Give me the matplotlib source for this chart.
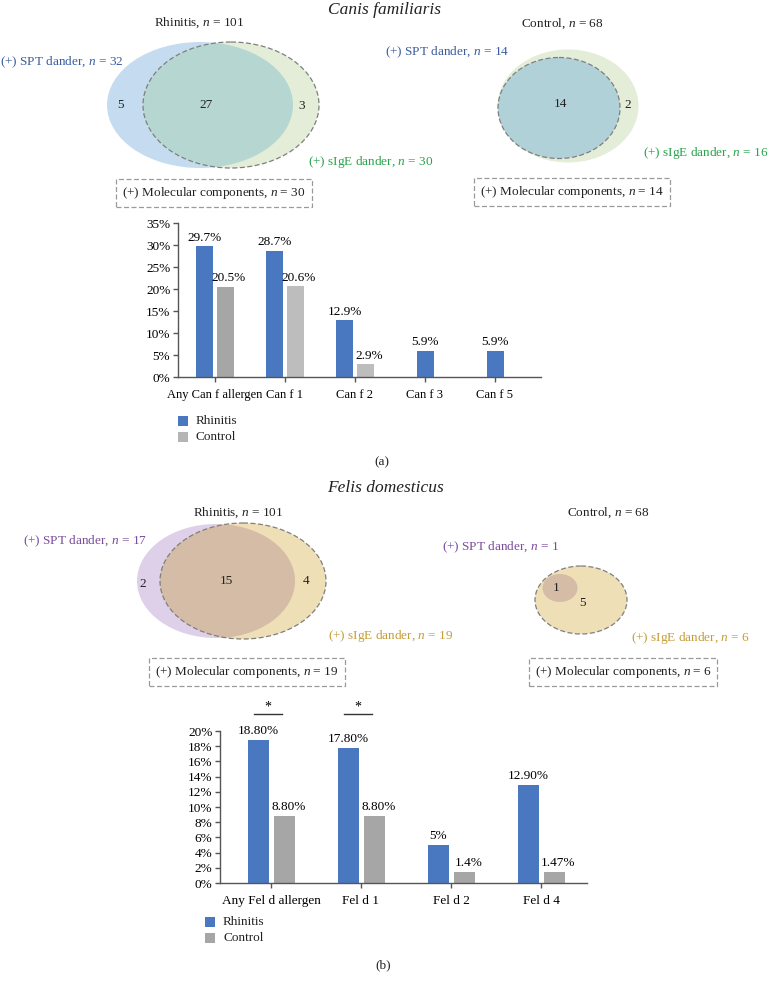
import matplotlib
matplotlib.use("Agg")
import matplotlib.pyplot as plt
from matplotlib.patches import Ellipse, Rectangle

plt.rcParams['font.family'] = ['Liberation Serif', 'DejaVu Serif']
plt.rcParams['mathtext.fontset'] = 'custom'
plt.rcParams['mathtext.rm'] = 'Liberation Serif'
plt.rcParams['mathtext.it'] = 'Liberation Serif:italic'

# ---------------- data ----------------
dog_categories = ["Any Can f allergen", "Can f 1", "Can f 2", "Can f 3", "Can f 5"]
dog_rhinitis = [29.7, 28.7, 12.9, 5.9, 5.9]
dog_control = [20.5, 20.6, 2.9, None, None]
dog_rhinitis_labels = ["29.7%", "28.7%", "12.9%", "5.9%", "5.9%"]
dog_control_labels = ["20.5%", "20.6%", "2.9%", None, None]
dog_yticks = [0, 5, 10, 15, 20, 25, 30, 35]

cat_categories = ["Any Fel d allergen", "Fel d 1", "Fel d 2", "Fel d 4"]
cat_rhinitis = [18.8, 17.8, 5.0, 12.9]
cat_control = [8.8, 8.8, 1.47, 1.47]
cat_rhinitis_labels = ["18.80%", "17.80%", "5%", "12.90%"]
cat_control_labels = ["8.80%", "8.80%", "1.4%", "1.47%"]
cat_yticks = [0, 2, 4, 6, 8, 10, 12, 14, 16, 18, 20]
cat_significant = [0, 1]

dog_venn_rhinitis = {"spt_only": 5, "both": 27, "sige_only": 3}
dog_venn_control = {"both": 14, "sige_only": 2}
cat_venn_rhinitis = {"spt_only": 2, "both": 15, "sige_only": 4}
cat_venn_control = {"both": 1, "sige_only": 5}

# ---------------- figure ----------------
W, H = 771, 983
fig = plt.figure(figsize=(W / 100, H / 100), dpi=100)
ax0 = fig.add_axes([0, 0, 1, 1])
ax0.set_xlim(0, W)
ax0.set_ylim(H, 0)
ax0.axis('off')

FS = 9.5
BLUE_T = '#3a5c9e'
GREEN_T = '#2aa34c'
PURPLE_T = '#7a4c9c'
TAN_T = '#c59d3a'
DASH_EC = '#7f7f7f'


def ell(cx, cy, w, h, fc, ec='none', ls='-', z=1, clip=None):
    e = Ellipse((cx, cy), w, h, fc=fc, ec=ec, ls=ls, lw=0.9, zorder=z)
    ax0.add_patch(e)
    if clip is not None:
        e.set_clip_path(clip)
    return e


def box(x, y, s):
    ax0.text(x, y, s, ha='center', va='center', fontsize=FS, color='#222',
             bbox=dict(boxstyle='square,pad=0.45', fc='white', ec='#9a9a9a',
                       ls=(0, (4, 2)), lw=0.9))


def t(x, y, s, color='#222', ha='center', fs=FS, **kw):
    ax0.text(x, y, s, ha=ha, va='center', fontsize=fs, color=color, **kw)


# ---- Canis familiaris ----
t(385, 10, "Canis familiaris", fs=12.5, style='italic')

# Rhinitis venn
t(199, 23, r"Rhinitis, $n$ = 101")
b = ell(200, 105, 186, 126, '#c5dcf0', z=1)
g = ell(231, 105, 176, 126, '#e4edd8', z=1.5)
i1 = ell(200, 105, 186, 126, '#b6d7d1', z=2, clip=g)
ell(231, 105, 176, 126, 'none', ec=DASH_EC, ls=(0, (4, 2)), z=3)
t(121, 105, str(dog_venn_rhinitis["spt_only"]))
t(206, 105, str(dog_venn_rhinitis["both"]))
t(302, 106, str(dog_venn_rhinitis["sige_only"]))
t(0, 62, r"(+) SPT dander, $n$ = 32", color=BLUE_T, ha='left')
t(308, 162, r"(+) sIgE dander, $n$ = 30", color=GREEN_T, ha='left')
box(214, 193, r"(+) Molecular components, $n$ = 30")

# Control venn
t(562, 24, r"Control, $n$ = 68")
ell(568, 106, 141, 113, '#e4edd8', z=1)
ell(559, 108, 122, 101, '#b1d1d9', ec=DASH_EC, ls=(0, (4, 2)), z=2)
t(560, 104, str(dog_venn_control["both"]))
t(628, 105, str(dog_venn_control["sige_only"]))
t(385, 52, r"(+) SPT dander, $n$ = 14", color=BLUE_T, ha='left')
t(768, 153, r"(+) sIgE dander, $n$ = 16", color=GREEN_T, ha='right')
box(572, 192, r"(+) Molecular components, $n$ = 14")

# ---- Felis domesticus ----
t(385, 488, "Felis domesticus", fs=12.5, style='italic')

t(238, 513, r"Rhinitis, $n$ = 101")
ell(216, 581, 158, 114, '#ddd0e8', z=1)
tg = ell(243, 581, 166, 116, '#efdfb6', z=1.5)
ell(216, 581, 158, 114, '#d4bca6', z=2, clip=tg)
ell(243, 581, 166, 116, 'none', ec=DASH_EC, ls=(0, (4, 2)), z=3)
t(143, 584, str(cat_venn_rhinitis["spt_only"]))
t(226, 581, str(cat_venn_rhinitis["both"]))
t(306, 581, str(cat_venn_rhinitis["sige_only"]))
t(23, 541, r"(+) SPT dander, $n$ = 17", color=PURPLE_T, ha='left')
t(328, 636, r"(+) sIgE dander, $n$ = 19", color=TAN_T, ha='left')
box(247, 672, r"(+) Molecular components, $n$ = 19")

t(608, 513, r"Control, $n$ = 68")
ell(581, 600, 92, 68, '#efdfb6', ec=DASH_EC, ls=(0, (4, 2)), z=1)
ell(560, 588, 35, 28, '#d4bca6', z=2)
t(556, 588, str(cat_venn_control["both"]))
t(582, 603, str(cat_venn_control["sige_only"]))
t(501, 547, r"(+) SPT dander, $n$ = 1", color=PURPLE_T)
t(690, 638, r"(+) sIgE dander, $n$ = 6", color=TAN_T)
box(623, 672, r"(+) Molecular components, $n$ = 6")

# ---------------- bar charts ----------------
BAR_BLUE = '#4a78c0'


def bar_axes(x0, x1, ybot, ytop):
    return fig.add_axes([x0 / W, 1 - ybot / H, (x1 - x0) / W, (ybot - ytop) / H])


def style_axes(ax, yticks, cats, positions, xfs=9.5):
    for s in ['top', 'right']:
        ax.spines[s].set_visible(False)
    for s in ['left', 'bottom']:
        ax.spines[s].set_color('#555555')
        ax.spines[s].set_linewidth(1.0)
    ax.set_yticks(yticks)
    ax.set_yticklabels([f"{v}%" for v in yticks], fontsize=9.5)
    ax.set_xticks(positions)
    ax.set_xticklabels(cats, fontsize=xfs)
    ax.tick_params(axis='both', length=3.5, width=1.0, color='#555555', pad=2)
    ax.tick_params(axis='x', pad=5)
    ax.patch.set_alpha(0)


# (a) dog
spacing_a = 70.0
axa = bar_axes(178, 541, 377, 223)
pos_a = list(range(len(dog_categories)))
axa.set_xlim((178 - 215) / spacing_a, (541 - 215) / spacing_a)
axa.set_ylim(0, 35)
wa = 17 / spacing_a
offa = 10.5 / spacing_a
gray_a = ['#a6a6a6', '#bdbdbd', '#bdbdbd', '#bdbdbd', '#bdbdbd']
for p, r, c, rl, cl, gc in zip(pos_a, dog_rhinitis, dog_control,
                               dog_rhinitis_labels, dog_control_labels, gray_a):
    if c is None:
        axa.bar(p, r, wa, color=BAR_BLUE)
        axa.text(p, r + 0.6, rl, ha='center', va='bottom', fontsize=9.5)
    else:
        axa.bar(p - offa, r, wa, color=BAR_BLUE)
        axa.bar(p + offa, c, wa, color=gc)
        axa.text(p - offa, r + 0.6, rl, ha='center', va='bottom', fontsize=9.5)
        axa.text(p + offa + 0.05, c + 0.6, cl, ha='center', va='bottom', fontsize=9.5)
style_axes(axa, dog_yticks, dog_categories, pos_a, xfs=9.0)

# (b) cat
spacing_b = 90.0
axb = bar_axes(220, 587, 883, 731)
pos_b = list(range(len(cat_categories)))
axb.set_xlim((220 - 271) / spacing_b, (587 - 271) / spacing_b)
axb.set_ylim(0, 20)
wb = 21 / spacing_b
offb = 13 / spacing_b
for p, r, c, rl, cl in zip(pos_b, cat_rhinitis, cat_control,
                           cat_rhinitis_labels, cat_control_labels):
    axb.bar(p - offb, r, wb, color=BAR_BLUE)
    axb.bar(p + offb, c, wb, color='#a6a6a6')
    axb.text(p - offb, r + 0.35, rl, ha='center', va='bottom', fontsize=9.5)
    axb.text(p + offb + 0.05, c + 0.35, cl, ha='center', va='bottom', fontsize=9.5)
for k in cat_significant:
    axb.plot([k - 0.19, k + 0.12], [22.2, 22.2], color='#333', lw=1.0, clip_on=False)
    axb.text(k - 0.035, 22.25, "*", ha='center', va='bottom', fontsize=10, clip_on=False)
style_axes(axb, cat_yticks, cat_categories, pos_b)

# legends
def legend(x, y, gray):
    ax0.add_patch(Rectangle((x - 5, y - 5), 10, 10, fc=BAR_BLUE, ec='none'))
    t(x + 13, y, "Rhinitis", ha='left')
    ax0.add_patch(Rectangle((x - 5, y + 16 - 5), 10, 10, fc=gray, ec='none'))
    t(x + 13, y + 16, "Control", ha='left')

legend(183, 421, '#b5b5b5')
legend(210, 922, '#a6a6a6')
t(382, 462, "(a)")
t(383, 965, "(b)")

fig.savefig("out.png", dpi=100)
